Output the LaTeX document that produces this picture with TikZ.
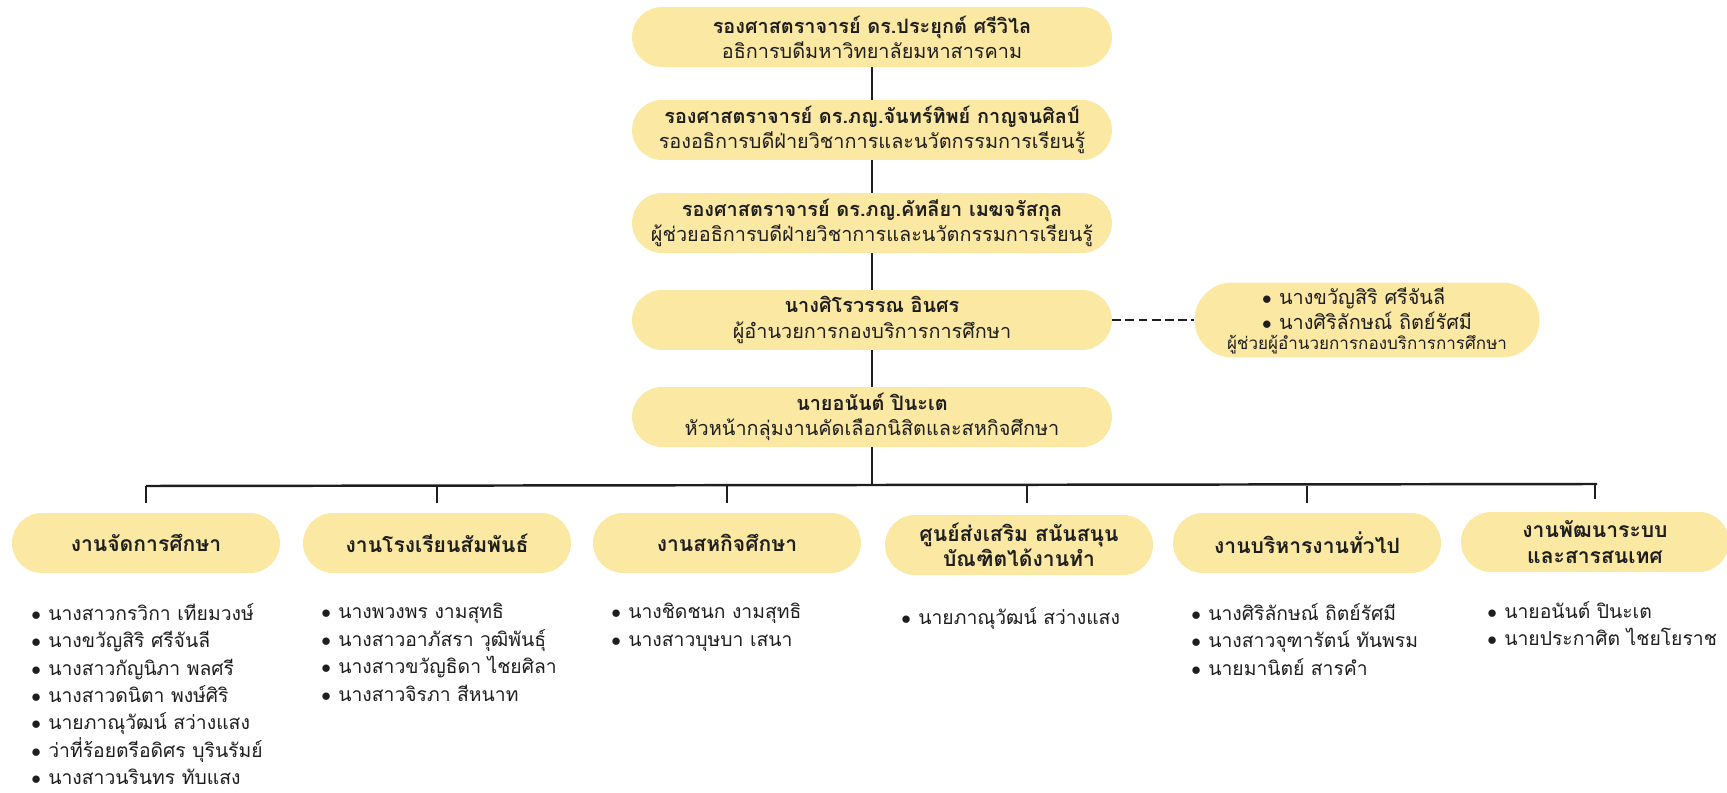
\documentclass[tikz,border=0pt]{standalone}
\usepackage{fontspec}
\newfontfamily\thaifont[Script=Thai]{Loma}
\definecolor{boxfill}{RGB}{251,232,163}
\definecolor{ink}{RGB}{30,30,30}
\newcommand{\dotitem}{\makebox[0.34cm][l]{$\bullet$}}
\newcommand{\namefont}{\thaifont\fontsize{11}{15.6}\selectfont\lineskiplimit=-50pt\relax}

\begin{document}
\begin{tikzpicture}[x=0.02cm, y=-0.02cm, font=\thaifont, text=ink,
    head/.style={rectangle, rounded corners=0.6cm, fill=boxfill, minimum width=9.6cm, minimum height=1.2cm, align=center, inner sep=0pt, font=\thaifont\fontsize{11.3}{14.3}\selectfont},
    unit/.style={rectangle, rounded corners=0.6cm, fill=boxfill, minimum width=5.36cm, minimum height=1.2cm, align=center, inner sep=0pt, font=\thaifont\bfseries\fontsize{12}{14.5}\selectfont},
    names/.style={anchor=north west, align=left, inner sep=0pt, font=\namefont},
    link/.style={draw=ink, line width=0.8pt}]

    \useasboundingbox (0,0) rectangle (1727,793);

    % Posizioni dei nodi
    \node[head] (rector) at (872,37) {{\bfseries รองศาสตราจารย์ ดร.ประยุกต์ ศรีวิไล}\\อธิการบดีมหาวิทยาลัยมหาสารคาม};
    \node[head] (vice) at (872,130) {{\bfseries รองศาสตราจารย์ ดร.ภญ.จันทร์ทิพย์ กาญจนศิลป์}\\รองอธิการบดีฝ่ายวิชาการและนวัตกรรมการเรียนรู้};
    \node[head] (asst) at (872,223) {{\bfseries รองศาสตราจารย์ ดร.ภญ.คัทลียา เมฆจรัสกุล}\\ผู้ช่วยอธิการบดีฝ่ายวิชาการและนวัตกรรมการเรียนรู้};
    \node[head] (director) at (872,320) {{\bfseries นางศิโรวรรณ อินศร}\\ผู้อำนวยการกองบริการการศึกษา};
    \node[head] (lead) at (872,417) {{\bfseries นายอนันต์ ปินะเต}\\หัวหน้ากลุ่มงานคัดเลือกนิสิตและสหกิจศึกษา};
    \node[head, minimum width=6.9cm, minimum height=1.5cm, rounded corners=0.75cm] (deputy) at (1367,320)
        {\begin{tabular}{@{}l@{}}\dotitem นางขวัญสิริ ศรีจันลี\\\dotitem นางศิริลักษณ์ ถิตย์รัศมี\end{tabular}\\[-2pt]{\fontsize{9.7}{12}\selectfont ผู้ช่วยผู้อำนวยการกองบริการการศึกษา}};

    \node[unit] (g1) at (146,543) {งานจัดการศึกษา};
    \node[unit] (g2) at (437,543) {งานโรงเรียนสัมพันธ์};
    \node[unit] (g3) at (727,543) {งานสหกิจศึกษา};
    \node[unit] (g4) at (1019,545) {ศูนย์ส่งเสริม สนันสนุน\\บัณฑิตได้งานทำ};
    \node[unit] (g5) at (1307,543) {งานบริหารงานทั่วไป};
    \node[unit] (g6) at (1595,542) {งานพัฒนาระบบ\\และสารสนเทศ};

    \node[names] (l1) at (31,603) {\dotitem นางสาวกรวิกา เทียมวงษ์\\\dotitem นางขวัญสิริ ศรีจันลี\\\dotitem นางสาวกัญนิภา พลศรี\\\dotitem นางสาวดนิตา พงษ์ศิริ\\\dotitem นายภาณุวัฒน์ สว่างแสง\\\dotitem ว่าที่ร้อยตรีอดิศร บุรินรัมย์\\\dotitem นางสาวนรินทร ทับแสง};
    \node[names] (l2) at (321,603) {\dotitem นางพวงพร งามสุทธิ\\\dotitem นางสาวอาภัสรา วุฒิพันธุ์\\\dotitem นางสาวขวัญธิดา ไชยศิลา\\\dotitem นางสาวจิรภา สีหนาท};
    \node[names] (l3) at (611,603) {\dotitem นางชิดชนก งามสุทธิ\\\dotitem นางสาวบุษบา เสนา};
    \node[names] (l4) at (901,607) {\dotitem นายภาณุวัฒน์ สว่างแสง};
    \node[names] (l5) at (1191,603) {\dotitem นางศิริลักษณ์ ถิตย์รัศมี\\\dotitem นางสาวจุฑารัตน์ ทันพรม\\\dotitem นายมานิตย์ สารคำ};
    \node[names] (l6) at (1487,601) {\dotitem นายอนันต์ ปินะเต\\\dotitem นายประกาศิต ไชยโยราช};

    \coordinate (barL) at (146,486);
    \coordinate (barR) at (1597,484);

    % Archi
    \draw[link] (rector) -- (vice);
    \draw[link] (vice) -- (asst);
    \draw[link] (asst) -- (director);
    \draw[link] (director) -- (lead);
    \draw[link, dash pattern=on 5pt off 2.5pt] (director) -- (deputy);
    \draw[link] (lead.south) -- (lead.south |- barL);
    \draw[draw=ink, line width=1.4pt] (barL) -- (barR);
    \draw[link, shorten >=0.2cm] (g1.north |- barL) -- (g1.north);
    \draw[link, shorten >=0.2cm] (g2.north |- barL) -- (g2.north);
    \draw[link, shorten >=0.2cm] (g3.north |- barL) -- (g3.north);
    \draw[link, shorten >=0.24cm] ([xshift=0.16cm]g4.north |- barL) -- ([xshift=0.16cm]g4.north);
    \draw[link, shorten >=0.2cm] (g5.north |- barL) -- (g5.north);
    \draw[link, shorten >=0.26cm] (g6.north |- barR) -- (g6.north);
\end{tikzpicture}
\end{document}
